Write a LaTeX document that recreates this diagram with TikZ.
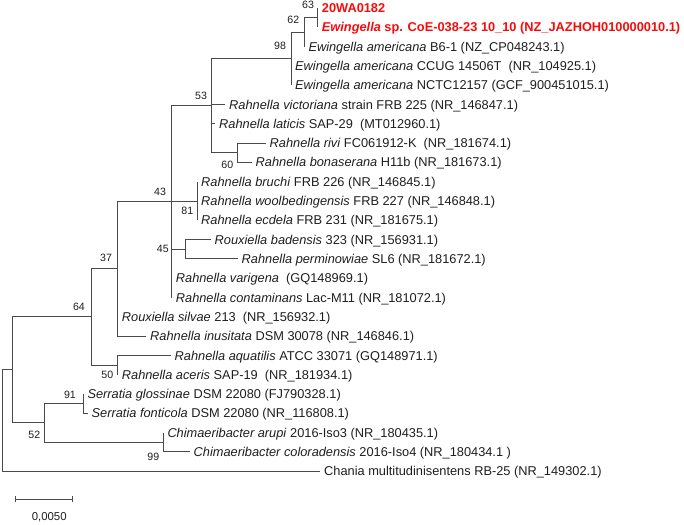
\documentclass[tikz,border=0pt]{standalone}
\usepackage{fontspec}
\setmainfont{Liberation Sans}
\definecolor{branchgray}{RGB}{75,75,75}
\definecolor{labelgray}{RGB}{30,30,30}
\definecolor{hitred}{RGB}{250,10,10}
\begin{document}
\begin{tikzpicture}[
  x=1bp, y=-1bp,
  branch/.style={draw=branchgray, line width=0.95bp},
  leaf/.style={anchor=west, inner xsep=4bp, inner ysep=0pt, text height=9.2bp, text depth=0pt,
    font=\fontsize{12.8bp}{15bp}\selectfont, text=labelgray},
  hit/.style={leaf, text=hitred, font=\fontsize{12.8bp}{15bp}\selectfont\bfseries},
  boot/.style={inner sep=0pt, font=\fontsize{10.6bp}{12bp}\selectfont, text=labelgray}
]
\useasboundingbox (0,0) rectangle (684,525);

% internal nodes of the tree
\coordinate (root) at (2.3,420.6);
\coordinate (nA) at (12.3,369.95);
\coordinate (n64) at (91.7,316.95);
\coordinate (n37) at (117.7,268.85);
\coordinate (n43) at (171.7,201.6);
\coordinate (n53) at (211,105.7);
\coordinate (n98) at (291,58.65);
\coordinate (n62) at (304.3,32.1);
\coordinate (n63) at (317.7,17.65);
\coordinate (n60) at (237.7,152.75);
\coordinate (n81) at (197,201.0);
\coordinate (n45) at (185,249.25);
\coordinate (n50) at (117.7,365.05);
\coordinate (n52) at (44.3,422.95);
\coordinate (n91) at (83.3,403.65);
\coordinate (n99) at (163.3,442.25);

% taxa
\node[hit] (wa) at (317.7,8) {20WA0182};
\node[hit] (coe) at (317.7,27.3) {\textit{Ewingella} sp. CoE-038-23 10\_10 (NZ\_JAZHOH010000010.1)};
\node[leaf] (b61) at (304.3,46.6) {\textit{Ewingella americana} B6-1 (NZ\_CP048243.1)};
\node[leaf] (ccug) at (291,65.9) {\textit{Ewingella americana} CCUG 14506T\ \ (NR\_104925.1)};
\node[leaf] (nctc) at (291,85.2) {\textit{Ewingella americana} NCTC12157 (GCF\_900451015.1)};
\node[leaf] (vict) at (225,104.5) {\textit{Rahnella victoriana} strain FRB 225 (NR\_146847.1)};
\node[leaf] (lati) at (215,123.8) {\textit{Rahnella laticis} SAP-29\ \ (MT012960.1)};
\node[leaf] (rivi) at (265.5,143.1) {\textit{Rahnella rivi} FC061912-K\ \ (NR\_181674.1)};
\node[leaf] (bona) at (251.5,162.4) {\textit{Rahnella bonaserana} H11b (NR\_181673.1)};
\node[leaf] (bruc) at (197,181.7) {\textit{Rahnella bruchi} FRB 226 (NR\_146845.1)};
\node[leaf] (wool) at (197,201.0) {\textit{Rahnella woolbedingensis} FRB 227 (NR\_146848.1)};
\node[leaf] (ecde) at (197,220.3) {\textit{Rahnella ecdela} FRB 231 (NR\_181675.1)};
\node[leaf] (bade) at (210.5,239.6) {\textit{Rouxiella badensis} 323 (NR\_156931.1)};
\node[leaf] (perm) at (237.5,258.9) {\textit{Rahnella perminowiae} SL6 (NR\_181672.1)};
\node[leaf] (vari) at (171.7,278.2) {\textit{Rahnella varigena}\ \ (GQ148969.1)};
\node[leaf] (cont) at (171.7,297.5) {\textit{Rahnella contaminans} Lac-M11 (NR\_181072.1)};
\node[leaf] (silv) at (117.7,316.8) {\textit{Rouxiella silvae} 213\ \ (NR\_156932.1)};
\node[leaf] (inus) at (146,336.1) {\textit{Rahnella inusitata} DSM 30078 (NR\_146846.1)};
\node[leaf] (aqua) at (170.5,355.4) {\textit{Rahnella aquatilis} ATCC 33071 (GQ148971.1)};
\node[leaf] (acer) at (117.7,374.7) {\textit{Rahnella aceris} SAP-19\ \ (NR\_181934.1)};
\node[leaf] (glos) at (83.3,394.0) {\textit{Serratia glossinae} DSM 22080 (FJ790328.1)};
\node[leaf] (font) at (87.5,413.3) {\textit{Serratia fonticola} DSM 22080 (NR\_116808.1)};
\node[leaf] (arup) at (163.3,432.6) {\textit{Chimaeribacter arupi} 2016-Iso3 (NR\_180435.1)};
\node[leaf] (colo) at (189.5,451.9) {\textit{Chimaeribacter coloradensis} 2016-Iso4 (NR\_180434.1 )};
\node[leaf] (chan) at (320,471.2) {Chania multitudinisentens RB-25 (NR\_149302.1)};

% branches
\draw[branch] (n63) |- (wa.west) (n63) |- (coe.west);
\draw[branch] (n62) |- (n63) (n62) |- (b61.west);
\draw[branch] (n98) |- (n62) (n98) |- (ccug.west) (n98) |- (nctc.west);
\draw[branch] (n60) |- (rivi.west) (n60) |- (bona.west);
\draw[branch] (n53) |- (n98) (n53) |- (vict.west) (n53) |- (lati.west) (n53) |- (n60);
\draw[branch] (n81) |- (bruc.west) (n81) |- (wool.west) (n81) |- (ecde.west);
\draw[branch] (n45) |- (bade.west) (n45) |- (perm.west);
\draw[branch] (n43) |- (n53) (n43) |- (n81) (n43) |- (n45) (n43) |- (vari.west) (n43) |- (cont.west);
\draw[branch] (n37) |- (n43) (n37) |- (silv.west) (n37) |- (inus.west);
\draw[branch] (n50) |- (aqua.west) (n50) |- (acer.west);
\draw[branch] (n64) |- (n37) (n64) |- (n50);
\draw[branch] (n91) |- (glos.west) (n91) |- (font.west);
\draw[branch] (n99) |- (arup.west) (n99) |- (colo.west);
\draw[branch] (n52) |- (n91) (n52) |- (n99);
\draw[branch] (nA) |- (n64) (nA) |- (n52);
\draw[branch] (root) |- (nA) (root) |- (chan.west);

% bootstrap values
\node[boot] (b63) at (308,5) {63};
\node[boot] (b62) at (293.3,20) {62};
\node[boot] (b98) at (280,45.7) {98};
\node[boot] (b53) at (201,95.7) {53};
\node[boot] (b60) at (227.3,165) {60};
\node[boot] (b43) at (160,191.5) {43};
\node[boot] (b81) at (187.3,211) {81};
\node[boot] (b45) at (162.8,249) {45};
\node[boot] (b37) at (106,257.7) {37};
\node[boot] (b64) at (79,306.7) {64};
\node[boot] (b50) at (107.3,375) {50};
\node[boot] (b91) at (70,394.5) {91};
\node[boot] (b52) at (34.3,435) {52};
\node[boot] (b99) at (153.3,457) {99};

% scale bar
\coordinate (sbl) at (15,499);
\coordinate (sbr) at (72.3,499);
\draw[branch] (sbl) -- (sbr);
\draw[branch] ([yshift=-3bp]sbl) -- ([yshift=3bp]sbl);
\draw[branch] ([yshift=-3bp]sbr) -- ([yshift=3bp]sbr);
\node[boot, font=\fontsize{11.4bp}{13bp}\selectfont] (sblab) at (49.2,517) {0,0050};
\end{tikzpicture}
\end{document}
